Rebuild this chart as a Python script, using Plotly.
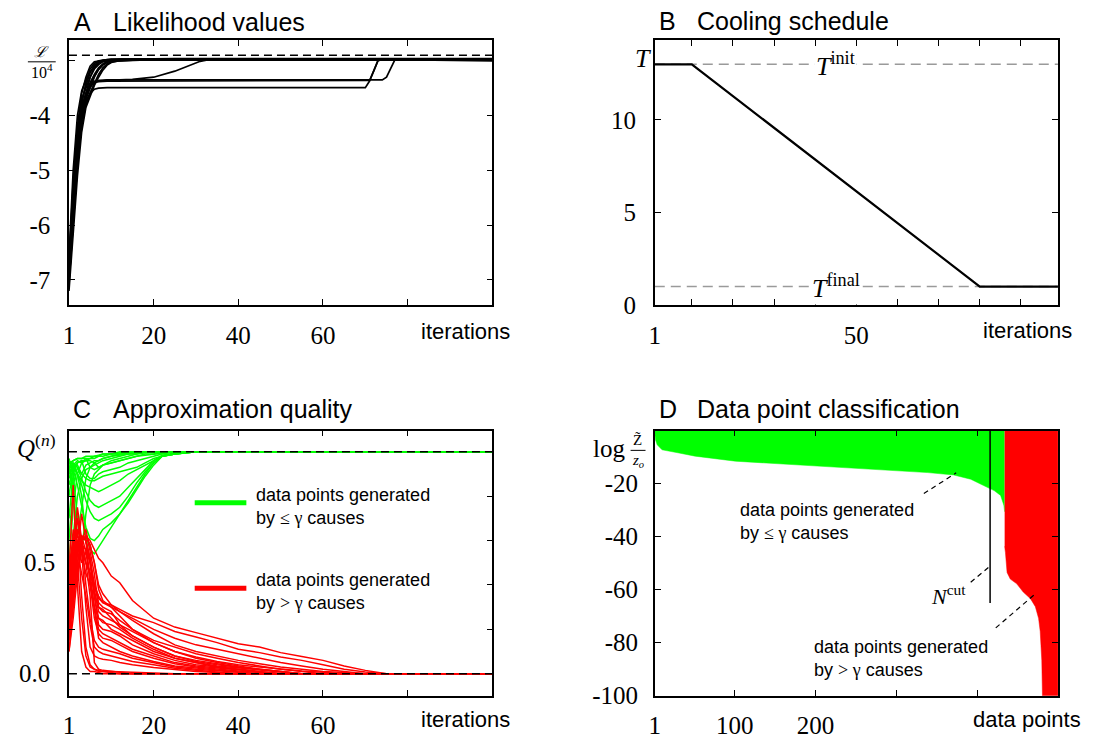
import plotly.graph_objects as go

W, H = 1108, 744

# ---------------- Panel A: likelihood values ----------------
A_iter = [0, 1, 2, 3, 4, 5, 6, 7, 8, 9, 10, 12, 15, 20, 25, 31, 33, 70, 71, 72, 73, 74, 75, 77, 100]
A_runs = [
    [-6.70, -5.20, -4.20, -3.60, -3.30, -3.10, -3.02, -3.00, -2.99, -2.98, -2.98, -2.97, -2.97, -2.97, -2.97, -2.97, -2.97, -2.97, -2.97, -2.97, -2.97, -2.97, -2.97, -2.97, -2.97],
    [-6.90, -5.50, -4.40, -3.80, -3.40, -3.15, -3.05, -3.00, -2.99, -2.98, -2.98, -2.98, -2.98, -2.98, -2.98, -2.98, -2.98, -2.98, -2.98, -2.98, -2.98, -2.98, -2.98, -2.98, -2.98],
    [-7.10, -5.80, -4.60, -3.90, -3.60, -3.30, -3.12, -3.04, -3.00, -2.99, -2.98, -2.97, -2.97, -2.96, -2.96, -2.96, -2.96, -2.96, -2.96, -2.96, -2.96, -2.96, -2.96, -2.96, -2.96],
    [-6.80, -5.40, -4.30, -3.70, -3.50, -3.30, -3.15, -3.07, -3.02, -3.00, -2.99, -2.98, -2.98, -2.98, -2.97, -2.97, -2.97, -2.97, -2.97, -2.97, -2.97, -2.97, -2.97, -2.97, -2.99],
    [-7.00, -5.90, -4.80, -4.00, -3.70, -3.50, -3.30, -3.15, -3.07, -3.02, -3.00, -2.99, -2.98, -2.98, -2.98, -2.98, -2.98, -2.98, -2.98, -2.98, -2.98, -2.98, -2.98, -2.98, -2.98],
    [-6.60, -5.00, -4.00, -3.55, -3.35, -3.20, -3.10, -3.04, -3.00, -2.99, -2.99, -2.99, -2.99, -2.99, -2.99, -2.99, -2.99, -2.99, -2.99, -2.99, -2.99, -2.99, -2.99, -2.99, -2.99],
    [-6.95, -5.60, -4.50, -3.85, -3.60, -3.40, -3.25, -3.13, -3.06, -3.02, -3.00, -2.99, -2.98, -2.97, -2.97, -2.97, -2.97, -2.97, -2.97, -2.97, -2.97, -2.97, -2.97, -2.97, -2.98],
    [-7.05, -6.00, -4.90, -4.10, -3.75, -3.58, -3.40, -3.25, -3.13, -3.06, -3.02, -3.00, -2.99, -2.98, -2.98, -2.98, -2.98, -2.98, -2.98, -2.98, -2.98, -2.98, -2.98, -2.98, -2.98],
    [-6.75, -5.30, -4.35, -3.75, -3.45, -3.22, -3.08, -3.02, -2.99, -2.98, -2.97, -2.97, -2.97, -2.97, -2.97, -2.97, -2.97, -2.97, -2.97, -2.97, -2.97, -2.97, -2.97, -2.97, -2.97],
    [-6.85, -5.65, -4.70, -3.95, -3.68, -3.45, -3.28, -3.16, -3.08, -3.03, -3.00, -2.99, -2.99, -2.98, -2.98, -2.98, -2.98, -2.98, -2.98, -2.98, -2.98, -2.98, -2.98, -2.98, -3.00],
    [-7.20, -6.20, -5.10, -4.30, -3.85, -3.65, -3.45, -3.30, -3.17, -3.08, -3.03, -3.00, -2.99, -2.98, -2.98, -2.98, -2.98, -2.98, -2.98, -2.98, -2.98, -2.98, -2.98, -2.98, -2.98],
    [-6.85, -5.50, -4.50, -3.90, -3.60, -3.45, -3.38, -3.36, -3.36, -3.35, -3.35, -3.35, -3.34, -3.30, -3.19, -3.01, -2.98, -2.97, -2.97, -2.97, -2.97, -2.97, -2.97, -2.97, -2.97],
    [-6.90, -5.70, -4.60, -4.00, -3.65, -3.48, -3.40, -3.38, -3.37, -3.37, -3.37, -3.37, -3.37, -3.37, -3.37, -3.37, -3.37, -3.37, -3.36, -3.18, -2.99, -2.98, -2.98, -2.98, -2.98],
    [-6.95, -5.75, -4.65, -4.00, -3.62, -3.45, -3.38, -3.36, -3.35, -3.35, -3.35, -3.35, -3.35, -3.35, -3.35, -3.35, -3.35, -3.35, -3.35, -3.35, -3.35, -3.35, -3.30, -2.98, -2.98],
    [-7.00, -5.90, -4.90, -4.20, -3.80, -3.60, -3.52, -3.50, -3.49, -3.49, -3.49, -3.49, -3.49, -3.49, -3.49, -3.49, -3.49, -3.49, -3.37, -3.18, -3.00, -2.98, -2.98, -2.98, -2.98],
]
A_optimum = -2.9
A_yticks = [-7, -6, -5, -4]
A_yticklabels = ["-7", "-6", "-5", "-4"]
A_yminor = [-3]

iter_ticks = [0, 20, 40, 60]
iter_ticklabels = ["1", "20", "40", "60"]
iter_minor = [80]

# ---------------- Panel B: cooling schedule ----------------
B_iter = [1, 10, 80, 99]
B_T = [13, 13, 1, 1]
T_init, T_final = 13, 1
B_xticks = [1, 50]
B_xticklabels = ["1", "50"]
B_xminor = [10, 20, 30, 40, 60, 70, 80, 90]
B_yticks = [0, 5, 10]
B_yticklabels = ["0", "5", "10"]

# ---------------- Panel C: approximation quality ----------------
C_green_iter = [0, 1, 2, 3, 4, 5, 6, 7, 8, 10, 12, 14, 16, 18, 20, 22, 25, 30, 100]
C_green_runs = [
    [0.93, 0.96, 0.97, 0.97, 0.98, 0.98, 0.98, 0.985, 0.99, 0.99, 0.995, 1, 1, 1, 1, 1, 1, 1, 1],
    [0.88, 0.94, 0.96, 0.95, 0.96, 0.97, 0.97, 0.98, 0.98, 0.99, 0.99, 0.995, 1, 1, 1, 1, 1, 1, 1],
    [0.60, 0.85, 0.93, 0.90, 0.94, 0.95, 0.96, 0.96, 0.97, 0.98, 0.985, 0.99, 0.995, 1, 1, 1, 1, 1, 1],
    [0.40, 0.62, 0.80, 0.88, 0.92, 0.93, 0.94, 0.95, 0.96, 0.97, 0.98, 0.99, 0.99, 0.995, 1, 1, 1, 1, 1],
    [0.90, 0.95, 0.90, 0.80, 0.62, 0.56, 0.54, 0.57, 0.60, 0.66, 0.72, 0.78, 0.84, 0.90, 0.95, 0.98, 0.99, 1, 1],
    [0.95, 0.92, 0.85, 0.75, 0.66, 0.61, 0.60, 0.62, 0.65, 0.68, 0.72, 0.77, 0.83, 0.89, 0.94, 0.98, 0.99, 1, 1],
    [0.85, 0.93, 0.90, 0.85, 0.78, 0.73, 0.70, 0.69, 0.70, 0.72, 0.75, 0.80, 0.86, 0.91, 0.95, 0.98, 0.99, 1, 1],
    [0.92, 0.95, 0.93, 0.88, 0.82, 0.78, 0.76, 0.75, 0.76, 0.78, 0.80, 0.84, 0.88, 0.92, 0.96, 0.985, 0.995, 1, 1],
    [0.96, 0.94, 0.90, 0.87, 0.85, 0.84, 0.83, 0.82, 0.83, 0.85, 0.87, 0.90, 0.92, 0.94, 0.96, 0.98, 0.99, 1, 1],
    [0.90, 0.93, 0.94, 0.90, 0.88, 0.87, 0.87, 0.88, 0.89, 0.90, 0.91, 0.92, 0.93, 0.95, 0.97, 0.98, 0.99, 1, 1],
    [0.70, 0.90, 0.95, 0.96, 0.90, 0.88, 0.88, 0.90, 0.91, 0.92, 0.93, 0.95, 0.96, 0.97, 0.98, 0.99, 1, 1, 1],
    [0.95, 0.96, 0.97, 0.97, 0.97, 0.93, 0.92, 0.93, 0.94, 0.95, 0.96, 0.97, 0.98, 0.985, 0.99, 0.995, 1, 1, 1],
    [0.80, 0.93, 0.95, 0.96, 0.96, 0.96, 0.95, 0.93, 0.94, 0.95, 0.96, 0.97, 0.98, 0.99, 0.99, 1, 1, 1, 1],
    [0.50, 0.75, 0.90, 0.95, 0.97, 0.97, 0.98, 0.98, 0.99, 0.99, 1, 1, 1, 1, 1, 1, 1, 1, 1],
    [0.97, 0.90, 0.70, 0.55, 0.72, 0.85, 0.90, 0.92, 0.94, 0.96, 0.97, 0.98, 0.99, 1, 1, 1, 1, 1, 1],
    [0.94, 0.80, 0.62, 0.75, 0.88, 0.93, 0.95, 0.96, 0.97, 0.98, 0.99, 0.99, 1, 1, 1, 1, 1, 1, 1],
]
C_red_iter = [0, 1, 2, 3, 4, 5, 6, 7, 8, 10, 12, 15, 20, 25, 30, 35, 40, 45, 50, 55, 60, 65, 70, 75, 100]
C_red_runs = [
    [0.35, 0.45, 0.55, 0.60, 0.62, 0.60, 0.56, 0.52, 0.50, 0.44, 0.41, 0.33, 0.25, 0.21, 0.185, 0.16, 0.135, 0.12, 0.095, 0.078, 0.06, 0.035, 0.015, 0, 0],
    [0.30, 0.50, 0.65, 0.60, 0.62, 0.58, 0.50, 0.40, 0.36, 0.31, 0.29, 0.26, 0.23, 0.19, 0.165, 0.14, 0.11, 0.095, 0.075, 0.06, 0.04, 0.02, 0.008, 0, 0],
    [0.20, 0.40, 0.55, 0.60, 0.62, 0.58, 0.50, 0.38, 0.33, 0.30, 0.28, 0.25, 0.20, 0.16, 0.13, 0.11, 0.09, 0.07, 0.05, 0.035, 0.02, 0.01, 0, 0, 0],
    [0.25, 0.50, 0.70, 0.60, 0.50, 0.45, 0.40, 0.35, 0.32, 0.30, 0.26, 0.20, 0.15, 0.12, 0.09, 0.07, 0.05, 0.035, 0.02, 0.01, 0, 0, 0, 0, 0],
    [0.40, 0.55, 0.45, 0.60, 0.65, 0.55, 0.45, 0.30, 0.28, 0.27, 0.24, 0.20, 0.14, 0.10, 0.07, 0.05, 0.035, 0.02, 0.01, 0, 0, 0, 0, 0, 0],
    [0.15, 0.35, 0.55, 0.62, 0.60, 0.50, 0.40, 0.32, 0.30, 0.28, 0.22, 0.17, 0.12, 0.08, 0.06, 0.045, 0.03, 0.02, 0.01, 0, 0, 0, 0, 0, 0],
    [0.30, 0.45, 0.58, 0.62, 0.60, 0.52, 0.35, 0.25, 0.23, 0.22, 0.20, 0.16, 0.11, 0.07, 0.05, 0.035, 0.025, 0.015, 0.008, 0, 0, 0, 0, 0, 0],
    [0.45, 0.60, 0.70, 0.55, 0.45, 0.40, 0.30, 0.25, 0.24, 0.20, 0.18, 0.15, 0.10, 0.07, 0.05, 0.03, 0.02, 0.01, 0, 0, 0, 0, 0, 0, 0],
    [0.20, 0.30, 0.50, 0.62, 0.60, 0.50, 0.35, 0.22, 0.20, 0.19, 0.17, 0.13, 0.09, 0.06, 0.04, 0.03, 0.02, 0.01, 0, 0, 0, 0, 0, 0, 0],
    [0.35, 0.50, 0.60, 0.50, 0.55, 0.45, 0.30, 0.20, 0.18, 0.16, 0.14, 0.11, 0.08, 0.05, 0.035, 0.025, 0.015, 0.008, 0, 0, 0, 0, 0, 0, 0],
    [0.10, 0.30, 0.55, 0.72, 0.60, 0.40, 0.25, 0.18, 0.16, 0.15, 0.13, 0.10, 0.07, 0.045, 0.03, 0.02, 0.012, 0.005, 0, 0, 0, 0, 0, 0, 0],
    [0.25, 0.40, 0.58, 0.62, 0.55, 0.42, 0.28, 0.16, 0.14, 0.12, 0.10, 0.08, 0.055, 0.035, 0.025, 0.015, 0.008, 0, 0, 0, 0, 0, 0, 0, 0],
    [0.30, 0.55, 0.75, 0.60, 0.40, 0.25, 0.15, 0.12, 0.11, 0.10, 0.09, 0.07, 0.05, 0.03, 0.02, 0.012, 0.006, 0, 0, 0, 0, 0, 0, 0, 0],
    [0.40, 0.65, 0.55, 0.45, 0.35, 0.22, 0.12, 0.10, 0.09, 0.08, 0.07, 0.055, 0.04, 0.025, 0.015, 0.008, 0, 0, 0, 0, 0, 0, 0, 0, 0],
    [0.20, 0.45, 0.60, 0.55, 0.30, 0.12, 0.08, 0.07, 0.065, 0.06, 0.05, 0.04, 0.028, 0.018, 0.01, 0.005, 0, 0, 0, 0, 0, 0, 0, 0, 0],
    [0.30, 0.60, 0.50, 0.25, 0.08, 0.03, 0.02, 0.015, 0.01, 0.01, 0.008, 0.005, 0.003, 0, 0, 0, 0, 0, 0, 0, 0, 0, 0, 0, 0],
    [0.45, 0.85, 0.40, 0.10, 0.03, 0.01, 0.01, 0.005, 0, 0, 0, 0, 0, 0, 0, 0, 0, 0, 0, 0, 0, 0, 0, 0, 0],
    [0.15, 0.50, 0.65, 0.35, 0.12, 0.04, 0.02, 0.01, 0.01, 0.005, 0, 0, 0, 0, 0, 0, 0, 0, 0, 0, 0, 0, 0, 0, 0],
    [0.50, 0.58, 0.62, 0.60, 0.50, 0.35, 0.05, 0.02, 0.015, 0.01, 0.005, 0, 0, 0, 0, 0, 0, 0, 0, 0, 0, 0, 0, 0, 0],
    [0.25, 0.35, 0.45, 0.58, 0.56, 0.50, 0.36, 0.30, 0.29, 0.25, 0.21, 0.17, 0.12, 0.08, 0.055, 0.04, 0.03, 0.02, 0.01, 0, 0, 0, 0, 0, 0],
    [0.35, 0.50, 0.60, 0.62, 0.60, 0.52, 0.40, 0.34, 0.32, 0.31, 0.28, 0.24, 0.18, 0.13, 0.10, 0.08, 0.06, 0.045, 0.03, 0.02, 0.01, 0.005, 0, 0, 0],
    [0.10, 0.25, 0.45, 0.55, 0.50, 0.45, 0.38, 0.28, 0.26, 0.24, 0.22, 0.19, 0.14, 0.10, 0.075, 0.055, 0.04, 0.03, 0.02, 0.012, 0.006, 0, 0, 0, 0],
]
C_levels = [0.0, 1.0]
C_yticks = [0]
C_yticklabels = ["0.0"]
C_yminor = [0.2, 0.4, 0.6, 0.8, 1.0]
C_legend_iter = [29.7, 41.9]
C_legend_green_q = 0.77
C_legend_red_q = 0.385

# ---------------- Panel D: data point classification ----------------
D_green_x = [1, 2, 4, 10, 31, 51, 101, 154, 201, 257, 298, 339, 371, 392, 408, 421, 429, 433, 434]
D_green_y = [-1.0, -3.5, -5.3, -7.2, -8.4, -9.6, -11.5, -12.4, -13.3, -14.2, -14.9, -15.8, -16.7, -18.3, -20.7, -22.6, -24.4, -28.1, -30.6]
D_red_x = [434, 435, 437, 441, 449, 457, 466, 472, 476, 478, 480, 481, 482, 500]
D_red_y = [-43.6, -46.0, -53.5, -56.0, -57.8, -60.9, -63.4, -66.4, -70.8, -75.7, -86.8, -99.0, -120.0, -120.0]
N_cut = 416
N_cut_bottom = -65
D_xticks = [1, 100, 200]
D_xticklabels = ["1", "100", "200"]
D_xminor = [300, 400]
D_yticks = [-100, -80, -60, -40, -20]
D_yticklabels = ["-100", "-80", "-60", "-40", "-20"]

GREEN = "#00ff00"
RED = "#ff0000"
SERIF = "Liberation Serif, Times New Roman, serif"
SANS = "Liberation Sans, Arial, sans-serif"


def px(x):
    return x / W


def py(y):
    return 1 - y / H


fig = go.Figure()

# Panel A
for run in A_runs:
    fig.add_trace(go.Scatter(x=A_iter, y=run, mode="lines", line=dict(color="black", width=1.7),
                             xaxis="x", yaxis="y", showlegend=False, hoverinfo="skip"))
fig.add_trace(go.Scatter(x=[0, 100], y=[A_optimum, A_optimum], mode="lines",
                         line=dict(color="black", width=1.6, dash="8px,5px"),
                         xaxis="x", yaxis="y", showlegend=False, hoverinfo="skip"))

# Panel B
for lvl in (T_init, T_final):
    fig.add_trace(go.Scatter(x=[1, 99], y=[lvl, lvl], mode="lines",
                             line=dict(color="#9a9a9a", width=1.5, dash="10px,6px"),
                             xaxis="x2", yaxis="y2", showlegend=False, hoverinfo="skip"))
fig.add_trace(go.Scatter(x=B_iter, y=B_T, mode="lines", line=dict(color="black", width=2.2),
                         xaxis="x2", yaxis="y2", showlegend=False, hoverinfo="skip"))

# Panel C
for run in C_green_runs:
    fig.add_trace(go.Scatter(x=C_green_iter, y=run, mode="lines", line=dict(color=GREEN, width=1.5),
                             xaxis="x3", yaxis="y3", showlegend=False, hoverinfo="skip"))
for run in C_red_runs:
    fig.add_trace(go.Scatter(x=C_red_iter, y=run, mode="lines", line=dict(color=RED, width=1.5),
                             xaxis="x3", yaxis="y3", showlegend=False, hoverinfo="skip"))
for lvl in C_levels:
    fig.add_trace(go.Scatter(x=[0, 100], y=[lvl, lvl], mode="lines",
                             line=dict(color="black", width=1.5, dash="8px,5px"),
                             xaxis="x3", yaxis="y3", showlegend=False, hoverinfo="skip"))
fig.add_trace(go.Scatter(x=C_legend_iter, y=[C_legend_green_q] * 2, mode="lines",
                         line=dict(color=GREEN, width=5), xaxis="x3", yaxis="y3",
                         showlegend=False, hoverinfo="skip"))
fig.add_trace(go.Scatter(x=C_legend_iter, y=[C_legend_red_q] * 2, mode="lines",
                         line=dict(color=RED, width=5), xaxis="x3", yaxis="y3",
                         showlegend=False, hoverinfo="skip"))

# Panel D
fig.add_trace(go.Scatter(x=D_green_x, y=D_green_y, mode="lines", fill="tozeroy", fillcolor=GREEN,
                         line=dict(color=GREEN, width=0.5), xaxis="x4", yaxis="y4",
                         showlegend=False, hoverinfo="skip"))
fig.add_trace(go.Scatter(x=D_red_x, y=D_red_y, mode="lines", fill="tozeroy", fillcolor=RED,
                         line=dict(color=RED, width=0.5), xaxis="x4", yaxis="y4",
                         showlegend=False, hoverinfo="skip"))
fig.add_trace(go.Scatter(x=[N_cut, N_cut], y=[0, N_cut_bottom], mode="lines",
                         line=dict(color="black", width=1.5), xaxis="x4", yaxis="y4",
                         showlegend=False, hoverinfo="skip"))


def axis(domain, anchor, rng, tickvals, ticktext, minor_vals=None, standoff=7):
    d = dict(domain=domain, anchor=anchor, range=rng, tickmode="array", tickvals=tickvals, ticktext=ticktext,
             showline=True, linecolor="black", linewidth=1.5, mirror="allticks",
             ticks="inside", ticklen=6, tickwidth=1.2, tickcolor="black",
             showgrid=False, zeroline=False, ticklabelstandoff=standoff,
             tickfont=dict(family=SERIF, size=25, color="black"))
    if minor_vals:
        d["minor"] = dict(tickmode="array", tickvals=minor_vals, ticks="inside", ticklen=6,
                          tickwidth=1.2, tickcolor="black", showgrid=False)
    return d


dxL = [px(63.3), px(489)]
dxR = [px(652.3), px(1057.7)]
dyT = [py(311), py(41)]
dyB = [py(709), py(439)]

fig.update_layout(
    width=W, height=H, margin=dict(l=0, r=0, t=0, b=0),
    paper_bgcolor="white", plot_bgcolor="white", showlegend=False,
    xaxis=axis(dxL, "y", [0, 100], iter_ticks, iter_ticklabels, iter_minor),
    yaxis=axis(dyT, "x", [-7.46, -2.625], A_yticks, A_yticklabels, A_yminor, standoff=12),
    xaxis2=axis(dxR, "y2", [1, 99], B_xticks, B_xticklabels, B_xminor),
    yaxis2=axis(dyT, "x2", [0, 14.3], B_yticks, B_yticklabels, standoff=12),
    xaxis3=axis(dxL, "y3", [0, 100], iter_ticks, iter_ticklabels, iter_minor),
    yaxis3=axis(dyB, "x3", [-0.099, 1.095], C_yticks, C_yticklabels, C_yminor, standoff=12),
    xaxis4=axis(dxR, "y4", [1, 500], D_xticks, D_xticklabels, D_xminor),
    yaxis4=axis(dyB, "x4", [-100, 0], D_yticks, D_yticklabels, standoff=10),
)

ann = []


def add_text(text, x, y, size, family=SANS, xanchor="center", yanchor="middle", xref="paper", yref="paper",
             align="center", bg=None):
    d = dict(text=text, x=x, y=y, xref=xref, yref=yref, showarrow=False, xanchor=xanchor,
             yanchor=yanchor, align=align, font=dict(family=family, size=size, color="black"))
    if bg:
        d["bgcolor"] = bg
    ann.append(d)


# titles
TS = 25
for letter, title, lx, tx, ty in [("A", "Likelihood values", 66, 106, 22),
                                   ("B", "Cooling schedule", 655, 693, 21),
                                   ("C", "Approximation quality", 65, 106, 417),
                                   ("D", "Data point classification", 655, 693, 417)]:
    add_text(letter, px(lx), py(ty), TS, xanchor="left")
    add_text(title, px(tx), py(ty), TS, xanchor="left")

# x-axis end labels
add_text("iterations", px(462), py(338), 22)
add_text("iterations", px(1027), py(337), 22)
add_text("iterations", px(462), py(733), 22)
add_text("data points", px(1027), py(733), 22)

# Panel A y label fraction
add_text("<i>ℒ</i>", px(36), py(53), 15, family=SERIF)
add_text("10<sup>4</sup>", px(36), py(72), 16, family=SERIF)

# Panel B labels
add_text("<i>T</i>", px(640), py(60), 26, family=SERIF)
add_text("<i>T</i><sup>init</sup>", 45, T_init, 26, family=SERIF, xref="x2", yref="y2", bg="white")
add_text("<i>T</i><sup>final</sup>", 45, T_final, 26, family=SERIF, xref="x2", yref="y2", bg="white")

# Panel C labels
add_text("0.5", px(51), 0.5, 25, family=SERIF, xanchor="right", yref="y3")
add_text("<i>Q</i><sup>(<i>n</i>)</sup>", px(31), py(455), 25, family=SERIF)
MATH = "font-family:'Liberation Serif',serif"
add_text("data points generated<br>by <span style=\"%s\">≤ γ</span> causes" % MATH,
         43.8, 0.755, 18, xanchor="left", align="left", xref="x3", yref="y3")
add_text("data points generated<br>by <span style=\"%s\">&gt; γ</span> causes" % MATH,
         43.8, 0.37, 18, xanchor="left", align="left", xref="x3", yref="y3")

# Panel D labels
add_text("log", px(606), py(457), 25, family=SERIF)
add_text("Z̃", px(635), py(448), 15, family=SERIF)
add_text("<i>z<sub>o</sub></i>", px(635), py(470), 15, family=SERIF)
add_text("data points generated<br>by <span style=\"%s\">≤ γ</span> causes" % MATH,
         px(736), py(531), 18, xanchor="left", align="left")
add_text("data points generated<br>by <span style=\"%s\">&gt; γ</span> causes" % MATH,
         px(810), py(671), 18, xanchor="left", align="left")
add_text("<i>N</i><sup>cut</sup>", 365, -62, 22, family=SERIF, xref="x4", yref="y4")

fig.update_layout(annotations=ann)

shapes = [
    # fraction bars
    dict(type="line", xref="paper", yref="paper", x0=px(22), x1=px(50), y0=py(63), y1=py(63),
         line=dict(color="black", width=1)),
    dict(type="line", xref="paper", yref="paper", x0=px(628), x1=px(643), y0=py(459), y1=py(459),
         line=dict(color="black", width=1)),
    # leader lines in D
    dict(type="line", xref="x4", yref="y4", x0=334, y0=-23.7, x1=374, y1=-15.9,
         line=dict(color="black", width=1.2, dash="5px,4px")),
    dict(type="line", xref="x4", yref="y4", x0=392, y0=-57.2, x1=414, y1=-51.6,
         line=dict(color="black", width=1.2, dash="5px,4px")),
    dict(type="line", xref="x4", yref="y4", x0=423, y0=-74.4, x1=470, y1=-62.1,
         line=dict(color="black", width=1.2, dash="5px,4px")),
]
fig.update_layout(shapes=shapes)

fig.write_html("out.html", config={"displayModeBar": False},
               post_script="document.body.style.margin='0px';")
